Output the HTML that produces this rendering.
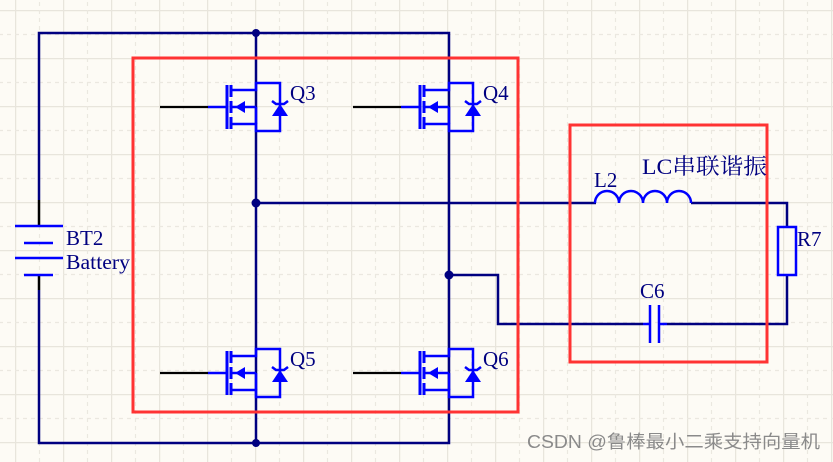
<!DOCTYPE html>
<html><head><meta charset="utf-8"><style>
html,body{margin:0;padding:0;background:#fdfbf5;}
svg{display:block;}
text{font-family:"Liberation Serif","Noto Serif CJK SC",serif;fill:#000080;}
</style></head><body>
<svg width="833" height="462" viewBox="0 0 833 462" xmlns="http://www.w3.org/2000/svg">
<defs>
<pattern id="g" x="15" y="10" width="48" height="48" patternUnits="userSpaceOnUse">
<path d="M0.5 0V48M0 0.5H48" stroke="#e8e5dc" stroke-width="1.5" fill="none"/>
<path d="M24.5 0V48M0 24.5H48" stroke="#ebe8e0" stroke-width="1.2" stroke-dasharray="4,4" fill="none"/>
</pattern>
<g id="q">
<line x1="-96" y1="0" x2="-48" y2="0" stroke="#000" stroke-width="2.2"/>
<line x1="-48" y1="0" x2="-29" y2="0" stroke="#0000ff" stroke-width="2.5"/>
<line x1="-29" y1="-22" x2="-29" y2="22" stroke="#0000ff" stroke-width="3"/>
<g stroke="#0000ff" stroke-width="3">
<line x1="-25" y1="-22" x2="-25" y2="-10"/><line x1="-25" y1="-6" x2="-25" y2="6"/><line x1="-25" y1="10" x2="-25" y2="22"/>
</g>
<g stroke="#0000ff" stroke-width="2.5" fill="none">
<path d="M-25 -17H0V-24H24V24H0V17H-25"/>
<line x1="-25" y1="0" x2="0" y2="0"/><line x1="0" y1="0" x2="0" y2="17"/>
<path d="M16 -6L20 -3H28L32 -6"/>
</g>
<polygon points="-21,0 -11,-6 -11,6" fill="#0000ff"/>
<polygon points="24,-3 16,9 32,9" fill="#0000ff"/>
</g>
</defs>
<rect width="833" height="462" fill="url(#g)"/>
<g stroke="#000080" stroke-width="2.5" fill="none">
<path d="M39 200V33H449V443H39V290"/>
<line x1="256" y1="33" x2="256" y2="443"/>
<path d="M256 203H596"/>
<path d="M691 203H787V227"/>
<path d="M787 275V324H667"/>
<path d="M643 324H498V275H449"/>
</g>
<g stroke="#000" stroke-width="2.5">
<line x1="39" y1="200" x2="39" y2="226"/>
<line x1="39" y1="275" x2="39" y2="290"/>
</g>
<g fill="#000080">
<circle cx="256" cy="33" r="4"/><circle cx="256" cy="443" r="4"/>
<circle cx="256" cy="203" r="4.5"/><circle cx="449" cy="275" r="4.5"/>
</g>
<g stroke="#0000ff" stroke-width="2.5">
<line x1="15" y1="226" x2="63" y2="226"/><line x1="24" y1="243" x2="53" y2="243"/>
<line x1="15" y1="258" x2="63" y2="258"/><line x1="24" y1="275" x2="53" y2="275"/>
<line x1="650" y1="305" x2="650" y2="343"/><line x1="659" y1="305" x2="659" y2="343"/>
<line x1="643" y1="324" x2="650" y2="324"/><line x1="659" y1="324" x2="667" y2="324"/>
</g>
<rect x="778" y="227" width="18" height="48" fill="none" stroke="#0000ff" stroke-width="2.5"/>
<path d="M595 203A12 12 0 0 1 619 203A12 12 0 0 1 643 203A12 12 0 0 1 667 203A12 12 0 0 1 691 203" fill="none" stroke="#0000ff" stroke-width="2.5"/>
<use href="#q" x="256" y="107"/>
<use href="#q" x="449" y="107"/>
<use href="#q" x="256" y="373"/>
<use href="#q" x="449" y="373"/>
<g fill="none" stroke="#ff3333" stroke-width="3">
<rect x="133" y="58" width="385" height="354"/>
<rect x="570" y="125" width="197" height="237"/>
</g>
<g font-size="21">
<text x="290" y="100">Q3</text><text x="483" y="100">Q4</text>
<text x="290" y="366">Q5</text><text x="483" y="366">Q6</text>
<text x="66" y="245">BT2</text><text x="66" y="269" textLength="64" lengthAdjust="spacingAndGlyphs">Battery</text>
<text x="594" y="187">L2</text>
<text x="642" y="174" font-size="22" textLength="125" lengthAdjust="spacingAndGlyphs">LC串联谐振</text>
<text x="797" y="246">R7</text>
<text x="640" y="298">C6</text>
</g>
<text x="527" y="448" font-size="18" textLength="293" lengthAdjust="spacingAndGlyphs" style="font-family:'Liberation Sans','Noto Sans CJK SC',sans-serif;fill:#8a8a8a">CSDN @鲁棒最小二乘支持向量机</text>
</svg>
</body></html>
